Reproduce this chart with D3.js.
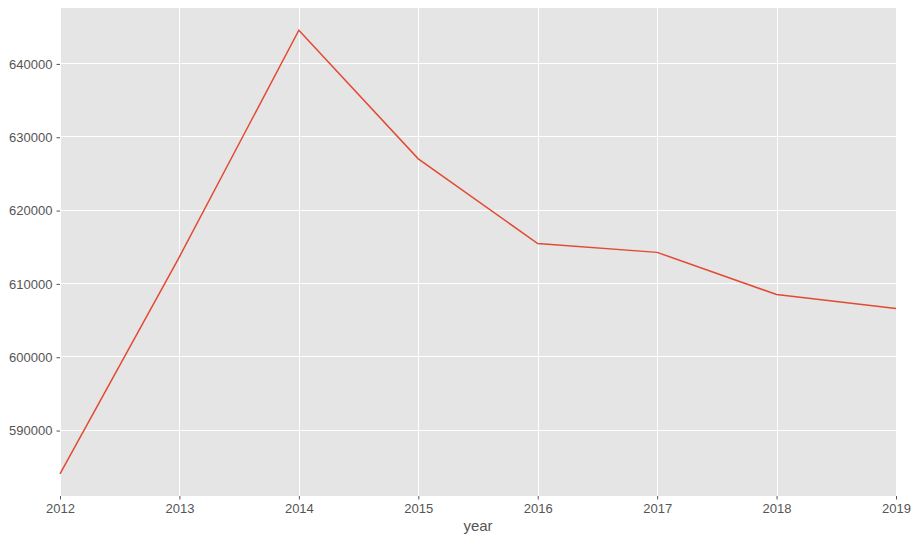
<!DOCTYPE html>
<html>
<head>
<meta charset="utf-8">
<script src="https://cdn.jsdelivr.net/npm/d3@7"></script>
<style>
  body { margin: 0; background: #fff; }
  svg { display: block; font-family: "Liberation Sans", "DejaVu Sans", sans-serif; }
</style>
</head>
<body>
<svg id="chart" width="918" height="540"></svg>
<script>
// values
const years = [2012, 2013, 2014, 2015, 2016, 2017, 2018, 2019];
const counts = [584100, 613700, 644600, 627050, 615500, 614300, 608550, 606650];
const yTicks = [590000, 600000, 610000, 620000, 630000, 640000];

const width = 918, height = 540;
const margin = { top: 8, right: 22, bottom: 44, left: 60 };

const svg = d3.select("#chart");

// pandas-style: x tight, y padded by 5%
const lo = d3.min(counts), hi = d3.max(counts);
const pad = (hi - lo) * 0.05;

const x = d3.scaleLinear()
  .domain(d3.extent(years))
  .range([margin.left, width - margin.right]);

const y = d3.scaleLinear()
  .domain([lo - pad, hi + pad])
  .range([height - margin.bottom, margin.top]);

svg.append("rect")
  .attr("x", margin.left)
  .attr("y", margin.top)
  .attr("width", width - margin.left - margin.right)
  .attr("height", height - margin.top - margin.bottom)
  .attr("fill", "#e5e5e5");

// grid
const grid = svg.append("g").attr("stroke", "#fff").attr("stroke-width", 1);
grid.selectAll("line.gy")
  .data(yTicks)
  .join("line")
  .attr("x1", margin.left)
  .attr("x2", width - margin.right)
  .attr("y1", (d) => Math.round(y(d)) - 0.5)
  .attr("y2", (d) => Math.round(y(d)) - 0.5);
grid.selectAll("line.gx")
  .data(years)
  .join("line")
  .attr("x1", (d) => Math.round(x(d)) + 0.5)
  .attr("x2", (d) => Math.round(x(d)) + 0.5)
  .attr("y1", margin.top)
  .attr("y2", height - margin.bottom);

// axes
const xAxis = svg.append("g")
  .attr("transform", `translate(0,${height - margin.bottom})`)
  .call(d3.axisBottom(x).tickValues(years).tickFormat(d3.format("d")).tickSize(3.5).tickPadding(4));
const yAxis = svg.append("g")
  .attr("transform", `translate(${margin.left},0)`)
  .call(d3.axisLeft(y).tickValues(yTicks).tickFormat(d3.format("d")).tickSize(3.5).tickPadding(4));

[xAxis, yAxis].forEach((ax) => {
  ax.select(".domain").remove();
  ax.selectAll(".tick line").attr("stroke", "#555");
  ax.selectAll(".tick text")
    .attr("fill", "#555")
    .style("font-size", "13px")
    .style("font-family", "\"Liberation Sans\", \"DejaVu Sans\", sans-serif");
});

svg.append("text")
  .attr("x", (margin.left + width - margin.right) / 2)
  .attr("y", height - 9)
  .attr("text-anchor", "middle")
  .attr("fill", "#555")
  .style("font-size", "15px")
  .text("year");

// series
const line = d3.line()
  .x((d, i) => x(years[i]))
  .y((d) => y(d));

svg.append("path")
  .datum(counts)
  .attr("d", line)
  .attr("fill", "none")
  .attr("stroke", "#E24A33")
  .attr("stroke-width", 1.5);
</script>
</body>
</html>
